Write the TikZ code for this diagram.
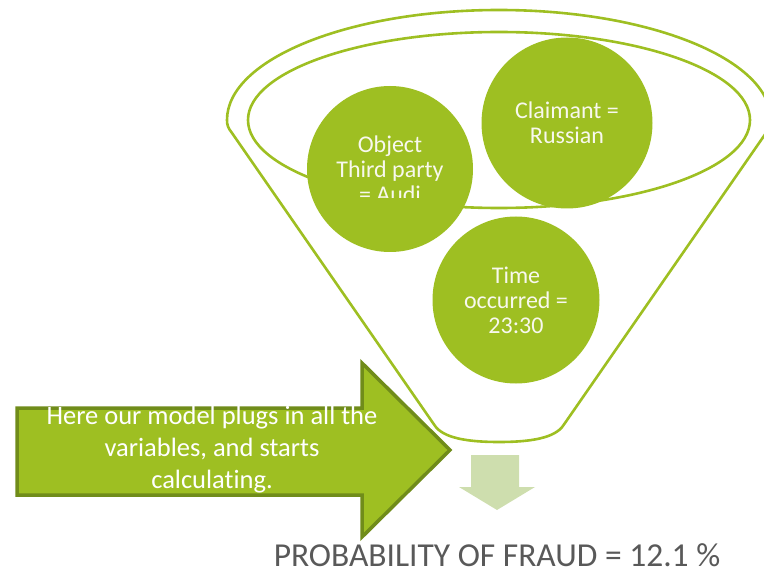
\documentclass[tikz,border=0pt]{standalone}
\usepackage{fontspec}
\setmainfont{Carlito}[Ligatures=NoCommon]
\definecolor{lime}{RGB}{158,191,34}
\definecolor{olive}{RGB}{112,140,26}
\definecolor{pale}{RGB}{206,222,174}
\definecolor{cream}{RGB}{248,248,238}
\definecolor{txtgray}{RGB}{89,89,89}
\tikzset{
  funnelline/.style={draw=lime, line width=2.6pt, line join=round},
  ball/.style={circle, fill=lime, draw=none, text=cream, align=center,
    font=\fontsize{24}{25}\selectfont, inner sep=0pt},
  bigarrow/.style={fill=lime, draw=olive, line width=3.5pt, line join=miter},
  smallarrow/.style={fill=pale, draw=none},
}
\begin{document}
\begin{tikzpicture}[x=1pt, y=-1pt]
\useasboundingbox (0,0) rectangle (764,575);
% funnel outline
\draw[funnelline] (232,133) .. controls (228,128) and (227,125) .. (227,120)
  arc[start angle=180, end angle=0, x radius=272pt, y radius=110pt]
  .. controls (771,125) and (770,128) .. (766,133)
  -- (565,423) .. controls (558,436) and (538,442) .. (499,442)
  .. controls (460,442) and (440,436) .. (433,423) -- cycle;
% inner rim
\draw[funnelline] (499,120) ellipse [x radius=251pt, y radius=88pt];
% balls
\node[ball, minimum size=166pt] (obj) at (390,169) {Object\\Third party\\= Audi};
\fill[lime] (350,198) rectangle (430,206);
\node[ball, minimum size=171pt] (claim) at (567,123) {Claimant =\\Russian};
\node[ball, minimum size=167pt] (time) at (516,300) {Time\\occurred =\\23:30};
% big arrow
\draw[bigarrow] (17,408) -- (362,408) -- (362,363) -- (450,450) -- (362,537)
  -- (362,495) -- (17,495) -- cycle;
\node[text=white, align=center, font=\fontsize{26.5}{32}\selectfont] (note) at (212,450)
  {Here our model plugs in all the\\variables, and starts\\calculating.};
% small arrow
\fill[smallarrow] (471,455) -- (519,455) -- (519,487) -- (535,487) -- (497,510)
  -- (459,487) -- (471,487) -- cycle;
\node[text=txtgray, font=\fontsize{33.5}{40}\selectfont] (result) at (497,555)
  {PROBABILITY OF FRAUD = 12.1 \%};
\end{tikzpicture}
\end{document}
